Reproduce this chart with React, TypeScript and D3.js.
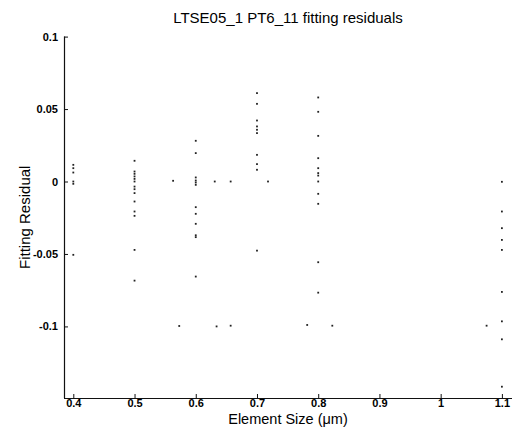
import { useEffect, useRef } from "react";
import { select, scaleLinear, axisLeft, axisBottom } from "d3";

// element sizes with a full column of residuals
const sizes = [0.4, 0.5, 0.6, 0.7, 0.8, 1.1];

const residuals04 = [0.0115, 0.0092, 0.0062, 0.0, -0.0016, -0.0506];
const residuals05 = [
    0.0143, 0.0069, 0.0053, 0.0035, 0.0018, 0.0, -0.0035, -0.0053, -0.008,
    -0.0138, -0.0207, -0.0237, -0.0472, -0.0684,
];
const residuals06 = [
    0.0281, 0.0196, 0.0028, 0.0007, -0.0007, -0.0023, -0.0177, -0.0223,
    -0.0292, -0.0371, -0.0384, -0.0656,
];
const residuals07 = [
    0.061, 0.0536, 0.0421, 0.038, 0.0357, 0.0334, 0.0184, 0.012, 0.0081,
    -0.0477,
];
const residuals08 = [
    0.058, 0.0481, 0.0315, 0.0161, 0.0092, 0.0058, 0.0041, 0.0, -0.0085,
    -0.0154, -0.0557, -0.0767,
];
const residuals11 = [
    -0.0002, -0.0207, -0.0322, -0.0403, -0.0472, -0.0762, -0.0965, -0.1089,
    -0.1416,
];

// odd points lying between the columns
const strayX = [0.563, 0.573, 0.631, 0.634, 0.657, 0.657, 0.718, 0.782, 0.823, 1.075];
const strayY = [0.0005, -0.0997, 0.0, -0.1, 0.0, -0.0995, 0.0, -0.099, -0.0995, -0.0995];

const xTicks = [0.4, 0.5, 0.6, 0.7, 0.8, 0.9, 1, 1.1];
const yTicks = [0.1, 0.05, 0, -0.05, -0.1];

function App() {
    const svgRef = useRef(null);

    useEffect(() => {
        const Width = 513;
        const Height = 436;
        const Margin = { top: 36.6, right: 1, bottom: 38, left: 64 };

        const svg = select(svgRef.current);
        svg.selectAll("*").remove();

        const xScale = scaleLinear()
            .domain([0.3848, 1.1165])
            .range([Margin.left, Width - Margin.right]);
        const yScale = scaleLinear()
            .domain([-0.1494, 0.1])
            .range([Height - Margin.bottom, Margin.top]);

        const columns = [residuals04, residuals05, residuals06, residuals07, residuals08, residuals11];
        const points = [];
        columns.forEach((col, i) => {
            col.forEach((r) => points.push({ x: sizes[i], y: r }));
        });
        strayX.forEach((x, i) => points.push({ x: x, y: strayY[i] }));

        const font = "Arial, 'Liberation Sans', sans-serif";

        // title
        svg.append("text")
            .attr("x", (xScale.range()[0] + xScale.range()[1]) / 2)
            .attr("y", 23)
            .attr("text-anchor", "middle")
            .attr("font-size", 15)
            .attr("font-family", font)
            .attr("fill", "#000")
            .text("LTSE05_1 PT6_11 fitting residuals");

        // axes
        const yAxis = axisLeft(yScale)
            .tickValues(yTicks)
            .tickSize(-4)
            .tickPadding(6)
            .tickFormat((d) => String(d));
        const gy = svg
            .append("g")
            .attr("transform", "translate(" + Margin.left + ",0)")
            .call(yAxis);

        const xAxis = axisBottom(xScale)
            .tickValues(xTicks)
            .tickSize(-4)
            .tickPadding(1)
            .tickFormat((d) => String(d));
        const gx = svg
            .append("g")
            .attr("transform", "translate(0," + (Height - Margin.bottom) + ")")
            .call(xAxis);

        [gx, gy].forEach((g) => {
            g.select(".domain").attr("stroke", "#111").attr("stroke-width", 1.2);
            g.selectAll(".tick line").attr("stroke", "#111");
            g.selectAll(".tick text")
                .attr("font-family", font)
                .attr("font-size", 11)
                .attr("font-weight", "bold")
                .attr("fill", "#000");
        });
        // matlab style: no end caps on axes
        gy.select(".domain").attr(
            "d",
            "M0.5," + yScale.range()[1] + "V" + yScale.range()[0]
        );
        gx.select(".domain").attr(
            "d",
            "M" + xScale.range()[0] + ",0.5H" + xScale.range()[1]
        );

        // axis labels
        svg.append("text")
            .attr("x", (xScale.range()[0] + xScale.range()[1]) / 2)
            .attr("y", 424)
            .attr("text-anchor", "middle")
            .attr("font-size", 14.5)
            .attr("font-family", font)
            .attr("fill", "#000")
            .text("Element Size (\u03bcm)");

        svg.append("text")
            .attr("transform", "translate(30," + (yScale.range()[0] + yScale.range()[1]) / 2 + ") rotate(-90)")
            .attr("text-anchor", "middle")
            .attr("font-size", 15)
            .attr("font-family", font)
            .attr("fill", "#000")
            .text("Fitting Residual");

        // dots
        svg.append("g")
            .selectAll("rect")
            .data(points)
            .join("rect")
            .attr("x", (d) => xScale(d.x) - 0.9)
            .attr("y", (d) => yScale(d.y) - 0.9)
            .attr("width", 1.8)
            .attr("height", 1.8)
            .attr("fill", "#222");
    }, []);

    return (
        <div style={{ position: "absolute", left: 0, top: 0 }}>
            <svg ref={svgRef} width={513} height={436} style={{ display: "block", background: "#fff" }}></svg>
        </div>
    );
}

export default App;
